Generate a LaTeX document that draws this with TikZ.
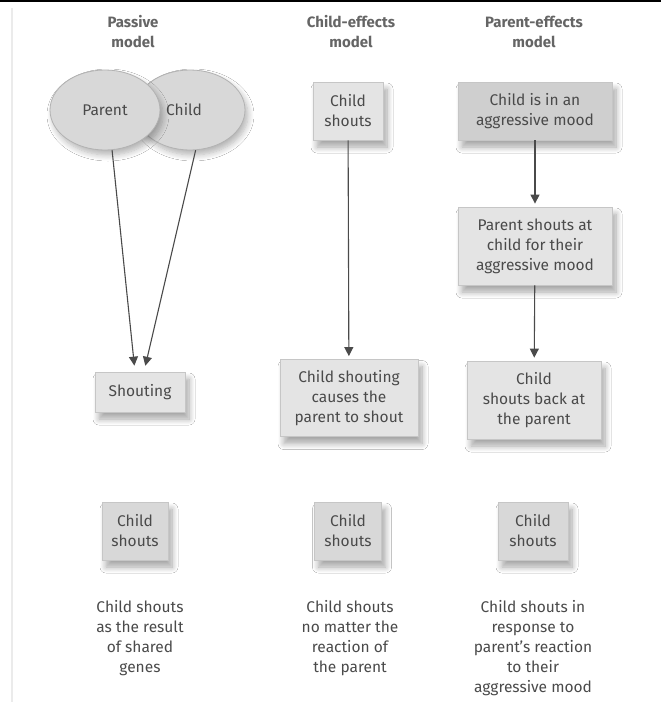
\documentclass[tikz,border=0pt]{standalone}
\usepackage{fontspec}
\setmainfont{Fira Sans}
\usetikzlibrary{shapes.geometric,arrows.meta,shadows.blur}
\definecolor{ink}{HTML}{4A4A4A}
\definecolor{boxfill}{HTML}{E4E4E4}
\definecolor{boxedge}{HTML}{C6C6C6}
\definecolor{darkfill}{HTML}{CFCFCF}
\definecolor{ovalfill}{HTML}{D8D8D8}
\definecolor{ovaledge}{HTML}{B2B2B2}
\tikzset{
  txt/.style={font=\fontsize{15.5}{20}\selectfont, text=ink, align=center},
  heading/.style={font=\fontsize{15}{20}\selectfont\bfseries, text=ink!85, align=center},
  card/.style={txt, draw=boxedge, fill=boxfill, line width=0.8pt, inner sep=0pt,
    blur shadow={shadow xshift=4pt, shadow yshift=-7pt, shadow blur steps=8, shadow blur radius=6pt, shadow opacity=35}},
  oval/.style={txt, ellipse, draw=ovaledge, fill=ovalfill, line width=0.8pt,
    minimum width=110pt, minimum height=80pt, inner sep=0pt,
    blur shadow={shadow xshift=3pt, shadow yshift=-5pt, shadow blur steps=8, shadow blur radius=6pt, shadow opacity=30}},
  arr/.style={draw=ink, line width=1.1pt, -{Triangle[length=9pt,width=9pt]}, shorten >=3pt},
}
\begin{document}
\begin{tikzpicture}[x=1pt,y=-1pt]
\useasboundingbox (0,0) rectangle (661,702);
\fill[white] (0,0) rectangle (661,702);
% frame lines
\draw[black, line width=1.6pt] (0,0.8) -- (661,0.8);
\draw[black!8, line width=1.5pt] (12,8) -- (12,702);

% column headings
\node[heading] (h1) at (133,32) {Passive\\model};
\node[heading] (h2) at (351,32) {Child-effects\\model};
\node[heading] (h3) at (534,32) {Parent-effects\\model};

% passive model
\node[oval] (child) at (190,110) {\hspace*{-12pt}Child};
\node[oval] (parent) at (105,110) {Parent};
\node[card, minimum width=90pt, minimum height=40pt] (shout) at (140,392) {Shouting};
\draw[arr, shorten >=6pt] (parent.280) -- ([xshift=-5pt]shout.north);
\draw[arr, shorten >=6pt] (child.278) -- ([xshift=4pt]shout.north);

% child-effects model
\node[card, minimum width=70pt, minimum height=58pt] (cs) at (348,111) {Child\\shouts};
\node[card, minimum width=138pt, minimum height=77pt] (cause) at (349,398) {Child shouting\\causes the\\parent to shout};
\draw[arr] (cs) -- (cause);

% parent-effects model
\node[card, fill=darkfill, minimum width=154pt, minimum height=58pt] (mood) at (535,111) {Child is in an\\aggressive mood};
\node[card, minimum width=154pt, minimum height=78pt] (pshout) at (535,246) {Parent shouts at\\child for their\\aggressive mood};
\node[card, minimum width=134pt, minimum height=78pt] (back) at (534,400) {Child\\shouts back at\\the parent};
\draw[arr] (mood) -- (pshout);
\draw[arr] (pshout) -- (back);

% outcomes
\node[card, fill=ovalfill, minimum width=66pt, minimum height=58pt] (o1) at (135,531) {Child\\shouts};
\node[card, fill=ovalfill, minimum width=67pt, minimum height=58pt] (o2) at (348,531) {Child\\shouts};
\node[card, fill=ovalfill, minimum width=70pt, minimum height=58pt] (o3) at (533,531) {Child\\shouts};

% captions
\node[txt, anchor=north] (c1) at (140,597) {Child shouts\\as the result\\of shared\\genes};
\node[txt, anchor=north] (c2) at (350,597) {Child shouts\\no matter the\\reaction of\\the parent};
\node[txt, anchor=north] (c3) at (533,597) {Child shouts in\\response to\\parent’s reaction\\to their\\aggressive mood};
\end{tikzpicture}
\end{document}
